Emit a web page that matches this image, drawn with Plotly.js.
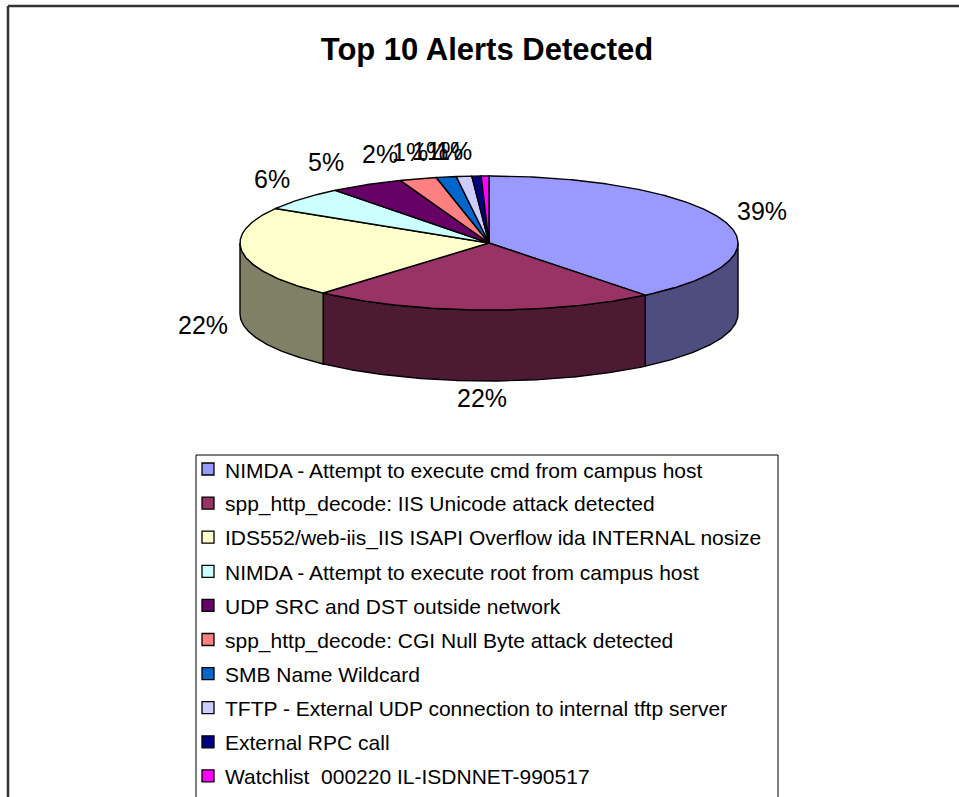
<!DOCTYPE html>
<html>
<head>
<meta charset="utf-8">
<script src="https://cdn.plot.ly/plotly-3.0.1.min.js"></script>
<style>html,body{margin:0;padding:0;background:#fff;}#chart{width:959px;height:797px;}</style>
</head>
<body>
<div id="chart"></div>
<script>
// ---- data ----
const categories = [
  'NIMDA - Attempt to execute cmd from campus host',
  'spp_http_decode: IIS Unicode attack detected',
  'IDS552/web-iis_IIS ISAPI Overflow ida INTERNAL nosize',
  'NIMDA - Attempt to execute root from campus host',
  'UDP SRC and DST outside network',
  'spp_http_decode: CGI Null Byte attack detected',
  'SMB Name Wildcard',
  'TFTP - External UDP connection to internal tftp server',
  'External RPC call',
  'Watchlist  000220 IL-ISDNNET-990517'
];
const values = [39.2, 22.4, 22.0, 5.8, 4.8, 2.4, 1.3, 1.0, 0.6, 0.5];
const topColors = ['#9999FF','#993366','#FFFFCC','#CCFFFF','#660066','#FF8080','#0066CC','#CCCCFF','#000080','#FF00FF'];
const chartTitle = 'Top 10 Alerts Detected';

// ---- geometry / style ----
const W = 959, H = 797;
const cx = 489, cy = 243, ra = 249, rb = 67, depth = 71;
const FONT = 'Liberation Sans, Arial, sans-serif';
const LEG = {left: 196, right: 778, top: 455, firstRow: 469, rowStep: 34.1, markX: 208, markHalf: 6, textX: 223};

function shade(hex, f) {
  const n = parseInt(hex.slice(1), 16);
  const r = Math.round(((n >> 16) & 255) * f), g = Math.round(((n >> 8) & 255) * f), b = Math.round((n & 255) * f);
  return 'rgb(' + r + ',' + g + ',' + b + ')';
}
const rad = d => d * Math.PI / 180;
const clamp = (v, a, b) => Math.max(a, Math.min(b, v));
function pt(deg, yoff) { return [cx + ra * Math.sin(rad(deg)), cy + yoff - rb * Math.cos(rad(deg))]; }
function arc(d1, d2, yoff) {
  const pts = []; const n = Math.max(2, Math.ceil(Math.abs(d2 - d1) / 0.5));
  for (let i = 0; i <= n; i++) pts.push(pt(d1 + (d2 - d1) * i / n, yoff));
  return pts;
}

const total = values.reduce((s, v) => s + v, 0);
const starts = [], ends = [];
let acc = 0;
values.forEach(v => { starts.push(acc / total * 360); acc += v; ends.push(acc / total * 360); });

const traces = [];
const lineStyle = {color: '#000', width: 1.4};

// side faces (visible front half: 90..270 deg)
values.forEach((v, i) => {
  const s = Math.max(starts[i], 90), e = Math.min(ends[i], 270);
  if (e <= s) return;
  const pts = arc(s, e, 0).concat(arc(e, s, depth));
  pts.push(pts[0]);
  traces.push({type: 'scatter', mode: 'lines', x: pts.map(p => p[0]), y: pts.map(p => p[1]),
    fill: 'toself', fillcolor: shade(topColors[i], 0.5), line: lineStyle, hoverinfo: 'skip', showlegend: false});
});

// top faces
values.forEach((v, i) => {
  const pts = [[cx, cy]].concat(arc(starts[i], ends[i], 0));
  pts.push([cx, cy]);
  traces.push({type: 'scatter', mode: 'lines', x: pts.map(p => p[0]), y: pts.map(p => p[1]),
    fill: 'toself', fillcolor: topColors[i], line: lineStyle, hoverinfo: 'skip', showlegend: false, name: categories[i]});
});

// percentage labels (placed outside the slice's mid angle)
const annotations = values.map((v, i) => {
  const m = (starts[i] + ends[i]) / 2;
  const c = Math.cos(rad(m)), s = Math.sin(rad(m));
  const crowd = Math.pow(clamp((c - 0.66) / 0.34, 0, 1), 0.8);
  const x = cx + (ra + 40) * s - 30 * crowd;
  const front = clamp((-c + 0.35) / 0.5, 0, 1);
  const y = cy - (rb + 26) * c + depth * front - 3 + 4 * crowd - 6 * Math.pow(Math.max(0, -c), 3);
  return {x: x, y: y, xref: 'x', yref: 'y', text: Math.round(v / total * 100) + '%', showarrow: false,
    xanchor: 'center', yanchor: 'middle', font: {family: FONT, size: 25, color: '#000'}};
});

// legend box (Excel-style), rows computed from the category order
const shapes = [
  {type: 'rect', xref: 'x', yref: 'y', x0: LEG.left, x1: LEG.right, y0: LEG.top, y1: 805, line: {color: '#000', width: 1}, fillcolor: 'rgba(0,0,0,0)', layer: 'below'},
  {type: 'line', xref: 'x', yref: 'y', x0: 8, x1: 8, y0: 6, y1: 805, line: {color: '#333', width: 2.5}},
  {type: 'line', xref: 'x', yref: 'y', x0: 8, x1: 965, y0: 6, y1: 6, line: {color: '#333', width: 2.5}}
];
categories.forEach((c, i) => {
  const ry = LEG.firstRow + i * LEG.rowStep;
  shapes.push({type: 'rect', xref: 'x', yref: 'y', x0: LEG.markX - LEG.markHalf, x1: LEG.markX + LEG.markHalf,
    y0: ry - LEG.markHalf, y1: ry + LEG.markHalf, fillcolor: topColors[i], line: {color: '#000', width: 1.3}});
  annotations.push({x: LEG.textX, y: ry + 1, xref: 'x', yref: 'y', text: c, showarrow: false,
    xanchor: 'left', yanchor: 'middle', font: {family: FONT, size: 21, color: '#000'}});
});

const layout = {
  width: W, height: H,
  margin: {l: 0, r: 0, t: 0, b: 0},
  paper_bgcolor: '#fff', plot_bgcolor: '#fff',
  title: {text: '<b>' + chartTitle + '</b>', font: {family: FONT, size: 31, color: '#000'},
    x: 487 / W, xanchor: 'center', y: 1 - 49 / H, yanchor: 'middle'},
  xaxis: {range: [0, W], visible: false, fixedrange: true},
  yaxis: {range: [H, 0], visible: false, fixedrange: true},
  showlegend: false,
  annotations: annotations,
  shapes: shapes
};

Plotly.newPlot('chart', traces, layout, {staticPlot: true, displayModeBar: false});
</script>
</body>
</html>
